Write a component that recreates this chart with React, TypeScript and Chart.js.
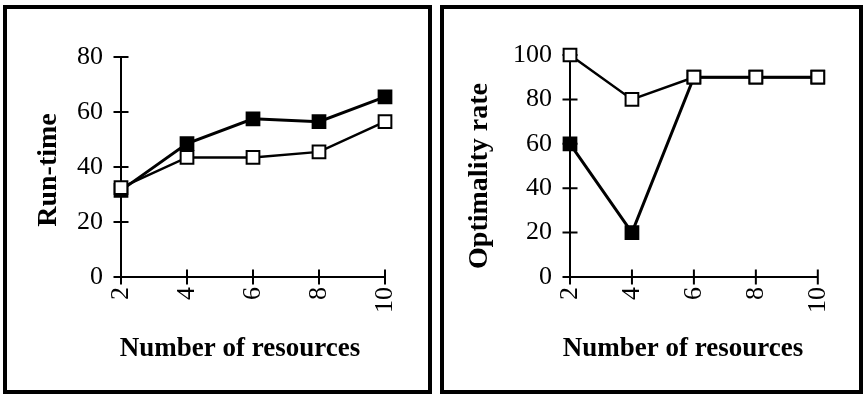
import React, { useEffect, useRef } from "react";
import { Chart, registerables } from "chart.js";

Chart.register(...registerables);

const resources = [2, 4, 6, 8, 10];
const runtimeFilled = [31.5, 48.5, 57.5, 56.5, 65.5];
const runtimeOpen = [32.5, 43.5, 43.5, 45.5, 56.5];
const optimalityFilled = [60, 20, 90, 90, 90];
const optimalityOpen = [100, 80, 90, 90, 90];

const xTitle = "Number of resources";
const runtimeTitle = "Run-time";
const optimalityTitle = "Optimality rate";

const SERIF = "'Liberation Serif', 'Times New Roman', serif";

type PanelCfg = {
  filled: number[];
  open: number[];
  yMax: number;
  yTitle: string;
  yAxisWidth: number;
  padTop: number;
  padRight: number;
  yTitleOffset: number;
  yTitleShift: number;
  xTitleOffset: number;
};

const toPts = (vals: number[]) => vals.map((v, i) => ({ x: resources[i], y: v }));

function makePlugin(cfg: PanelCfg) {
  return {
    id: "paperAxes",
    beforeDatasetsDraw(chart: any) {
      const { ctx, scales } = chart;
      const xs = scales.x;
      const ys = scales.y;
      const x0 = xs.getPixelForValue(xs.min);
      const x1 = xs.getPixelForValue(xs.max);
      const y0 = ys.getPixelForValue(ys.min);
      const y1 = ys.getPixelForValue(ys.max);
      const half = 7.5;
      ctx.save();
      ctx.strokeStyle = "#000";
      ctx.lineWidth = 2;
      ctx.lineCap = "butt";
      ctx.beginPath();
      ctx.moveTo(x0, y1);
      ctx.lineTo(x0, y0);
      ctx.moveTo(x0, y0);
      ctx.lineTo(x1, y0);
      ys.ticks.forEach((t: any) => {
        const p = ys.getPixelForValue(t.value);
        ctx.moveTo(x0 - half, p);
        ctx.lineTo(x0 + half, p);
      });
      xs.ticks.forEach((t: any) => {
        const p = xs.getPixelForValue(t.value);
        ctx.moveTo(p, y0 - half);
        ctx.lineTo(p, y0 + half);
      });
      ctx.stroke();
      ctx.restore();
    },
    afterDraw(chart: any) {
      const { ctx, chartArea } = chart;
      ctx.save();
      ctx.fillStyle = "#000";
      ctx.font = `bold 27px ${SERIF}`;
      ctx.textAlign = "center";
      ctx.textBaseline = "alphabetic";
      ctx.fillText(xTitle, chartArea.left + cfg.xTitleOffset, chartArea.bottom + 79);
      ctx.font = `bold 28px ${SERIF}`;
      ctx.translate(chartArea.left - cfg.yTitleOffset, (chartArea.top + chartArea.bottom) / 2 + cfg.yTitleShift);
      ctx.rotate(-Math.PI / 2);
      ctx.fillText(cfg.yTitle, 0, 0);
      ctx.restore();
    },
  };
}

function Panel({ cfg, style }: { cfg: PanelCfg; style: React.CSSProperties }) {
  const ref = useRef<HTMLCanvasElement>(null);
  useEffect(() => {
    if (!ref.current) return;
    const chart = new Chart(ref.current, {
      type: "line",
      data: {
        datasets: [
          {
            data: toPts(cfg.open),
            borderColor: "#000",
            borderWidth: 2.5,
            pointStyle: "rect",
            pointRadius: 9,
            pointBackgroundColor: "#fff",
            pointBorderColor: "#000",
            pointBorderWidth: 2,
            tension: 0,
            clip: false as any,
          },
          {
            data: toPts(cfg.filled),
            borderColor: "#000",
            borderWidth: 3,
            pointStyle: "rect",
            pointRadius: 9,
            pointBackgroundColor: "#000",
            pointBorderColor: "#000",
            pointBorderWidth: 2,
            tension: 0,
            clip: false as any,
          },
        ],
      },
      options: {
        animation: false,
        responsive: false,
        maintainAspectRatio: false,
        layout: { padding: { top: cfg.padTop, right: cfg.padRight, left: 0, bottom: 0 } },
        plugins: { legend: { display: false }, tooltip: { enabled: false } },
        scales: {
          x: {
            type: "linear",
            min: 2,
            max: 10,
            grid: { display: false, drawTicks: false },
            border: { display: false },
            ticks: {
              stepSize: 2,
              minRotation: 90,
              maxRotation: 90,
              padding: 10,
              color: "#000",
              font: { family: SERIF, size: 26 },
            },
            afterFit: (s: any) => {
              s.height = 113;
            },
          },
          y: {
            min: 0,
            max: cfg.yMax,
            grid: { display: false, drawTicks: false },
            border: { display: false },
            ticks: {
              stepSize: 20,
              padding: 18,
              color: "#000",
              font: { family: SERIF, size: 26 },
            },
            afterFit: (s: any) => {
              s.width = cfg.yAxisWidth;
            },
          },
        },
      },
      plugins: [makePlugin(cfg)],
    });
    return () => chart.destroy();
  }, []);
  const w = (style.width as number) - 8;
  const h = (style.height as number) - 8;
  return (
    <div
      style={{
        position: "absolute",
        boxSizing: "border-box",
        border: "4px solid #000",
        background: "#fff",
        ...style,
      }}
    >
      <canvas ref={ref} width={w} height={h} style={{ display: "block", width: w, height: h }} />
    </div>
  );
}

const leftCfg: PanelCfg = {
  filled: runtimeFilled,
  open: runtimeOpen,
  yMax: 80,
  yTitle: runtimeTitle,
  yAxisWidth: 114,
  padTop: 48,
  padRight: 43,
  yTitleOffset: 65,
  yTitleShift: 3,
  xTitleOffset: 119,
};

const rightCfg: PanelCfg = {
  filled: optimalityFilled,
  open: optimalityOpen,
  yMax: 100,
  yTitle: optimalityTitle,
  yAxisWidth: 126,
  padTop: 46,
  padRight: 38,
  yTitleOffset: 83,
  yTitleShift: 10,
  xTitleOffset: 113,
};

export default function App() {
  return (
    <div style={{ position: "fixed", left: 0, top: 0, width: 865, height: 394, background: "#fff", overflow: "hidden" }}>
      <Panel cfg={leftCfg} style={{ left: 3, top: 5, width: 429, height: 389 }} />
      <Panel cfg={rightCfg} style={{ left: 440, top: 5, width: 423, height: 389 }} />
    </div>
  );
}
